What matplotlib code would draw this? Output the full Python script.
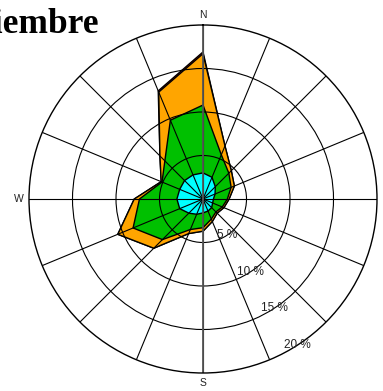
# coding: utf-8

import numpy as np
import matplotlib
matplotlib.use('Agg')
import matplotlib.pyplot as plt


directions = ['N', 'NNE', 'NE', 'ENE', 'E', 'ESE', 'SE', 'SSE',
              'S', 'SSW', 'SW', 'WSW', 'W', 'WNW', 'NW', 'NNW']
bearings = np.arange(0, 360, 22.5)

# frequency (%) per speed class, per direction
calm_low = [3.0, 2.7, 2.0, 1.5, 1.2, 1.2, 1.4, 1.5, 1.6, 1.9, 2.3, 2.9, 3.0, 2.9, 3.0, 3.0]
low_mid = [7.8, 2.8, 2.2, 2.0, 1.6, 1.2, 0.7, 1.0, 1.7, 1.9, 4.3, 5.8, 4.3, 2.2, 3.2, 6.8]
mid_high = [5.9, 1.1, 0.4, 0.4, 0.2, 0.2, 0.2, 0.3, 0.4, 0.5, 1.4, 1.9, 0.6, 0.1, 0.8, 3.5]
high = [0.2, 0, 0, 0, 0, 0, 0, 0, 0, 0, 0, 0, 0, 0, 0, 0.15]

class_colors = ['#00ffff', '#00c000', '#ffa500', '#ff0000']

ring_values = [5, 10, 15, 20]
ring_labels = ['5 %', '10 %', '15 %', '20 %']
title = 'Noviembre'


def main():
    fig = plt.figure(figsize=(3.83, 3.91), dpi=100)
    ax = fig.add_axes([29 / 383, 18 / 391, 348 / 383, 348 / 391], projection='polar')
    ax.set_theta_zero_location('N')
    ax.set_theta_direction(-1)
    ax.set_ylim(0, 20)

    theta = np.deg2rad(np.append(bearings, bearings[0]))
    stacked = np.cumsum([calm_low, low_mid, mid_high, high], axis=0)

    # biggest first so the smaller classes sit on top
    for vals, col in reversed(list(zip(stacked, class_colors))):
        r = np.append(vals, vals[0])
        ax.fill(theta, r, facecolor=col, edgecolor='black', linewidth=1.0)

    ax.set_xticks(np.deg2rad(bearings))
    ax.set_xticklabels([])
    ax.set_yticks(ring_values[:-1])
    ax.set_yticklabels([])
    ax.grid(True, color='black', linewidth=0.8)
    ax.spines['polar'].set_color('black')
    ax.spines['polar'].set_linewidth(1.0)

    ax.plot([0, 0], [0, 20], color='#555555', linewidth=1.3)
    ax.plot([np.pi, np.pi], [0, 20], color='#555555', linewidth=1.3)

    # E falls outside the picture in the original, so only N, S, W
    for name, b in [('N', 0), ('S', 180), ('W', 270)]:
        ax.text(np.deg2rad(b), 21.2, name, ha='center', va='center',
                fontsize=7.5, family='Liberation Sans', color='#222222')

    for v, lab in zip(ring_values, ring_labels):
        ax.text(np.deg2rad(147), v, lab, ha='center', va='center',
                fontsize=8.5, family='Liberation Sans', color='#222222')

    fig.text(99 / 383, 1 - 33 / 391, title, ha='right', va='baseline',
             fontsize=25.5, fontweight='bold', family='Liberation Serif')

    fig.savefig('out.png', dpi=100)


if __name__ == '__main__':
    main()
